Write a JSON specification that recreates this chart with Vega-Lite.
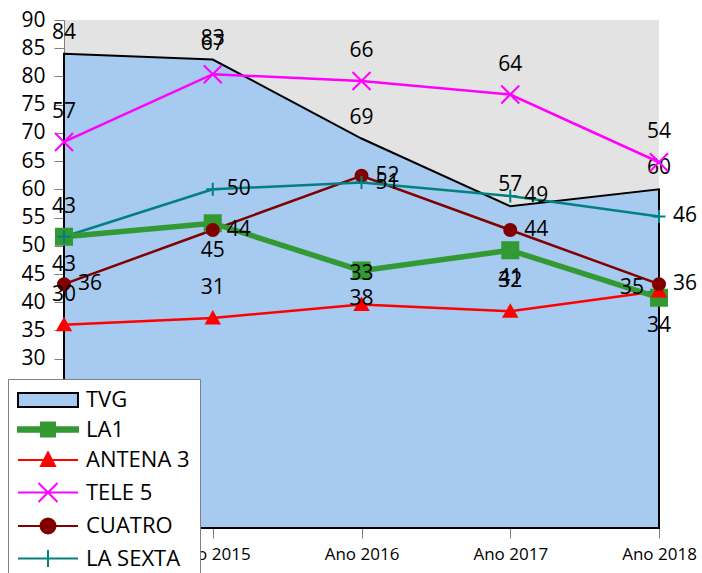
{
  "$schema": "https://vega.github.io/schema/vega-lite/v6.json",
  "autosize": {"type": "none"},
  "padding": {"left": 64, "top": 20, "right": 43, "bottom": 45},
  "width": 595,
  "height": 508,
  "config": {
    "view": {"fill": "#e3e3e3", "stroke": null},
    "font": "Open Sans",
    "text": {"font": "Open Sans", "fontSize": 21, "color": "#000000"}
  },
  "data": {
    "values": [
      {"series": "TVG", "year": "Ano 2014", "value": 84},
      {"series": "TVG", "year": "Ano 2015", "value": 83},
      {"series": "TVG", "year": "Ano 2016", "value": 69},
      {"series": "TVG", "year": "Ano 2017", "value": 57},
      {"series": "TVG", "year": "Ano 2018", "value": 60},
      {"series": "LA1", "year": "Ano 2014", "value": 43},
      {"series": "LA1", "year": "Ano 2015", "value": 45},
      {"series": "LA1", "year": "Ano 2016", "value": 38},
      {"series": "LA1", "year": "Ano 2017", "value": 41},
      {"series": "LA1", "year": "Ano 2018", "value": 34},
      {"series": "ANTENA 3", "year": "Ano 2014", "value": 30},
      {"series": "ANTENA 3", "year": "Ano 2015", "value": 31},
      {"series": "ANTENA 3", "year": "Ano 2016", "value": 33},
      {"series": "ANTENA 3", "year": "Ano 2017", "value": 32},
      {"series": "ANTENA 3", "year": "Ano 2018", "value": 35},
      {"series": "TELE 5", "year": "Ano 2014", "value": 57},
      {"series": "TELE 5", "year": "Ano 2015", "value": 67},
      {"series": "TELE 5", "year": "Ano 2016", "value": 66},
      {"series": "TELE 5", "year": "Ano 2017", "value": 64},
      {"series": "TELE 5", "year": "Ano 2018", "value": 54},
      {"series": "CUATRO", "year": "Ano 2014", "value": 36},
      {"series": "CUATRO", "year": "Ano 2015", "value": 44},
      {"series": "CUATRO", "year": "Ano 2016", "value": 52},
      {"series": "CUATRO", "year": "Ano 2017", "value": 44},
      {"series": "CUATRO", "year": "Ano 2018", "value": 36},
      {"series": "LA SEXTA", "year": "Ano 2014", "value": 43},
      {"series": "LA SEXTA", "year": "Ano 2015", "value": 50},
      {"series": "LA SEXTA", "year": "Ano 2016", "value": 51},
      {"series": "LA SEXTA", "year": "Ano 2017", "value": 49},
      {"series": "LA SEXTA", "year": "Ano 2018", "value": 46}
    ]
  },
  "encoding": {
    "x": {
      "field": "year", "type": "nominal",
      "scale": {"type": "point", "padding": 0},
      "axis": {
        "title": null, "labelAngle": 0, "labelFont": "Open Sans", "labelFontSize": 17,
        "labelColor": "#000000", "tickSize": 10, "labelPadding": 8,
        "tickColor": "#808080", "domainColor": "#808080", "grid": false
      }
    }
  },
  "layer": [
    {
      "transform": [{"filter": "datum.series == 'TVG'"}],
      "mark": {"type": "area", "fill": "#a6caf0", "stroke": "#000000", "strokeWidth": 2, "interpolate": "linear"},
      "encoding": {
        "y": {
          "field": "value", "type": "quantitative",
          "scale": {"domain": [0, 90], "nice": false, "zero": true},
          "axis": {
            "title": null, "grid": false,
            "values": [30, 35, 40, 45, 50, 55, 60, 65, 70, 75, 80, 85, 90],
            "labelFont": "Open Sans", "labelFontSize": 21, "labelColor": "#000000",
            "tickSize": 10, "labelPadding": 9, "tickColor": "#808080", "domainColor": "#808080"
          }
        }
      }
    },
    {
      "transform": [{"filter": "datum.series == 'TVG'"}],
      "mark": {"type": "text", "dy": -21},
      "encoding": {
        "y": {"field": "value", "type": "quantitative", "scale": {"domain": [0, 90], "nice": false}, "axis": null},
        "text": {"field": "value", "type": "quantitative"}
      }
    },
    {
      "transform": [{"filter": "datum.series != 'TVG' && datum.series != 'LA1'"}],
      "mark": {"type": "line", "strokeWidth": 2.5},
      "encoding": {
        "y": {"field": "value", "type": "quantitative", "scale": {"domain": [0, 75], "nice": false}, "axis": null},
        "stroke": {
          "field": "series", "type": "nominal", "legend": null,
          "scale": {"domain": ["ANTENA 3", "TELE 5", "CUATRO", "LA SEXTA"], "range": ["#ff0000", "#ff00ff", "#800000", "#008080"]}
        }
      }
    },
    {
      "transform": [{"filter": "datum.series == 'LA1'"}],
      "mark": {"type": "line", "strokeWidth": 5.5, "stroke": "#339933"},
      "encoding": {
        "y": {"field": "value", "type": "quantitative", "scale": {"domain": [0, 75], "nice": false}, "axis": null}
      }
    },
    {
      "transform": [{"filter": "datum.series != 'TVG'"}],
      "mark": {"type": "point", "size": 100, "strokeWidth": 2, "opacity": 1},
      "encoding": {
        "y": {"field": "value", "type": "quantitative", "scale": {"domain": [0, 75], "nice": false}, "axis": null},
        "shape": {
          "field": "series", "type": "nominal", "legend": null,
          "scale": {
            "domain": ["LA1", "ANTENA 3", "TELE 5", "CUATRO", "LA SEXTA"],
            "range": [
              "M-1.6,-1.6H1.6V1.6H-1.6Z",
              "M0,-1.2L1.3,1.1L-1.3,1.1Z",
              "M-1.8,-1.8L1.8,1.8M-1.8,1.8L1.8,-1.8",
              "M1.2,0C1.2,0.663,0.663,1.2,0,1.2C-0.663,1.2,-1.2,0.663,-1.2,0C-1.2,-0.663,-0.663,-1.2,0,-1.2C0.663,-1.2,1.2,-0.663,1.2,0Z",
              "M-1.3,0H1.3M0,-1.3V1.3"
            ]
          }
        },
        "fill": {
          "field": "series", "type": "nominal", "legend": null,
          "scale": {"domain": ["LA1", "ANTENA 3", "TELE 5", "CUATRO", "LA SEXTA"], "range": ["#339933", "#ff0000", "transparent", "#800000", "transparent"]}
        },
        "stroke": {
          "field": "series", "type": "nominal", "legend": null,
          "scale": {"domain": ["LA1", "ANTENA 3", "TELE 5", "CUATRO", "LA SEXTA"], "range": ["#339933", "#ff0000", "#ff00ff", "#800000", "#008080"]}
        }
      }
    },
    {
      "transform": [{"filter": "datum.series == 'TELE 5' || (datum.series == 'ANTENA 3' && datum.year != 'Ano 2018') || (datum.series == 'LA SEXTA' && datum.year == 'Ano 2014')"}],
      "mark": {"type": "text", "dy": -30},
      "encoding": {
        "y": {"field": "value", "type": "quantitative", "scale": {"domain": [0, 75], "nice": false}, "axis": null},
        "text": {"field": "value", "type": "quantitative"}
      }
    },
    {
      "transform": [{"filter": "datum.series == 'LA1'"}],
      "mark": {"type": "text", "dy": 28},
      "encoding": {
        "y": {"field": "value", "type": "quantitative", "scale": {"domain": [0, 75], "nice": false}, "axis": null},
        "text": {"field": "value", "type": "quantitative"}
      }
    },
    {
      "transform": [{"filter": "datum.series == 'CUATRO' || (datum.series == 'LA SEXTA' && datum.year != 'Ano 2014')"}],
      "mark": {"type": "text", "align": "left", "dx": 14},
      "encoding": {
        "y": {"field": "value", "type": "quantitative", "scale": {"domain": [0, 75], "nice": false}, "axis": null},
        "text": {"field": "value", "type": "quantitative"}
      }
    },
    {
      "transform": [{"filter": "datum.series == 'ANTENA 3' && datum.year == 'Ano 2018'"}],
      "mark": {"type": "text", "align": "right", "dx": -15, "dy": -3},
      "encoding": {
        "y": {"field": "value", "type": "quantitative", "scale": {"domain": [0, 75], "nice": false}, "axis": null},
        "text": {"field": "value", "type": "quantitative"}
      }
    },
    {
      "mark": {"type": "point", "opacity": 0, "size": 1},
      "encoding": {
        "y": {"field": "value", "type": "quantitative", "scale": {"domain": [0, 90], "nice": false}, "axis": null},
        "shape": {
          "field": "series", "type": "nominal",
          "scale": {
            "domain": ["TVG", "LA1", "ANTENA 3", "TELE 5", "CUATRO", "LA SEXTA"],
            "range": [
              "M-1.1,-0.7H4.9V0.7H-1.1Z",
              "M-1.1,-0.22H4.9V0.22H-1.1ZM1.2,-0.7H2.6V0.7H1.2Z",
              "M-1.1,0H4.9M1.9,-0.75L2.6,0.6L1.2,0.6Z",
              "M-1.1,0H4.9M0.95,-0.95L2.85,0.95M0.95,0.95L2.85,-0.95",
              "M-1.1,0H4.9M2.65,0C2.65,0.414,2.314,0.75,1.9,0.75C1.486,0.75,1.15,0.414,1.15,0C1.15,-0.414,1.486,-0.75,1.9,-0.75C2.314,-0.75,2.65,-0.414,2.65,0Z",
              "M-1.1,0H4.9M1.9,-0.85V0.85"
            ]
          },
          "legend": {
            "orient": "none", "legendX": -56, "legendY": 359, "title": null,
            "symbolSize": 400, "symbolStrokeWidth": 2, "symbolOpacity": 1,
            "labelFont": "Open Sans", "labelFontSize": 22, "labelColor": "#000000", "labelOffset": 46,
            "padding": 10, "rowPadding": 7.5, "fillColor": "#ffffff", "strokeColor": "#808080",
            "encode": {"symbols": {"update": {"opacity": {"value": 1}}}}
          }
        },
        "fill": {
          "field": "series", "type": "nominal",
          "scale": {"domain": ["TVG", "LA1", "ANTENA 3", "TELE 5", "CUATRO", "LA SEXTA"], "range": ["#a6caf0", "#339933", "#ff0000", "transparent", "#800000", "transparent"]},
          "legend": {
            "orient": "none", "legendX": -56, "legendY": 359, "title": null,
            "symbolSize": 400, "symbolStrokeWidth": 2, "symbolOpacity": 1,
            "labelFont": "Open Sans", "labelFontSize": 22, "labelColor": "#000000", "labelOffset": 46,
            "padding": 10, "rowPadding": 7.5, "fillColor": "#ffffff", "strokeColor": "#808080",
            "encode": {"symbols": {"update": {"opacity": {"value": 1}}}}
          }
        },
        "stroke": {
          "field": "series", "type": "nominal",
          "scale": {"domain": ["TVG", "LA1", "ANTENA 3", "TELE 5", "CUATRO", "LA SEXTA"], "range": ["#000000", "#339933", "#ff0000", "#ff00ff", "#800000", "#008080"]},
          "legend": {
            "orient": "none", "legendX": -56, "legendY": 359, "title": null,
            "symbolSize": 400, "symbolStrokeWidth": 2, "symbolOpacity": 1,
            "labelFont": "Open Sans", "labelFontSize": 22, "labelColor": "#000000", "labelOffset": 46,
            "padding": 10, "rowPadding": 7.5, "fillColor": "#ffffff", "strokeColor": "#808080",
            "encode": {"symbols": {"update": {"opacity": {"value": 1}}}}
          }
        }
      }
    }
  ],
  "resolve": {
    "scale": {"y": "independent", "shape": "independent", "fill": "independent", "stroke": "independent"}
  }
}
